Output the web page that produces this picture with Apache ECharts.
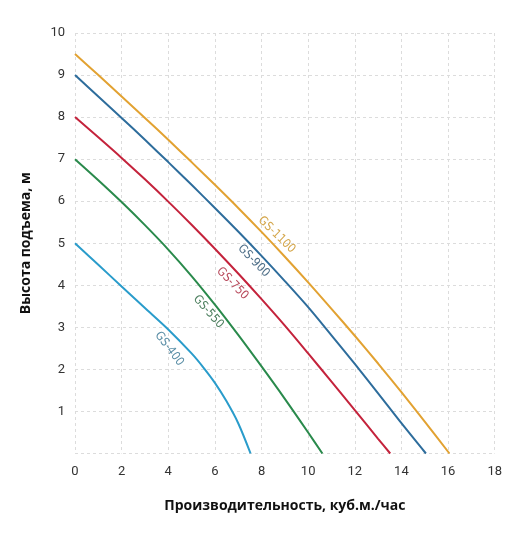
<!DOCTYPE html>
<html>
<head>
<meta charset="utf-8">
<script src="https://cdn.jsdelivr.net/npm/echarts@6/dist/echarts.min.js"></script>
<style>
html,body{margin:0;padding:0;background:#fff;}
#c{width:505px;height:540px;}
</style>
</head>
<body>
<div id="c"></div>
<script>
// ---- data ----
const seriesNames = ['GS-400', 'GS-550', 'GS-750', 'GS-900', 'GS-1100'];
const gs400x  = [0, 1, 2, 3, 4, 5, 5.5, 6, 6.5, 7, 7.53];
const gs400y  = [5, 4.49, 3.97, 3.46, 2.95, 2.38, 2.05, 1.68, 1.24, 0.72, 0];
const gs550x  = [0, 1, 2, 3, 4, 5, 6, 7, 8, 9, 10, 10.61];
const gs550y  = [7, 6.5, 5.98, 5.43, 4.85, 4.22, 3.54, 2.82, 2.07, 1.3, 0.5, 0];
const gs750x  = [0, 1, 2, 3, 4, 5, 6, 7, 8, 9, 10, 11, 12, 13, 13.52];
const gs750y  = [8, 7.52, 7.03, 6.52, 5.99, 5.44, 4.87, 4.28, 3.67, 3.04, 2.38, 1.71, 1.03, 0.35, 0];
const gs900x  = [0, 1, 2, 3, 4, 5, 6, 7, 8, 9, 10, 11, 12, 13, 14, 15.05];
const gs900y  = [9, 8.49, 7.98, 7.46, 6.93, 6.39, 5.84, 5.28, 4.7, 4.1, 3.48, 2.81, 2.13, 1.43, 0.72, 0];
const gs1100x = [0, 1, 2, 3, 4, 5, 6, 7, 8, 9, 10, 11, 12, 13, 14, 15, 16.06];
const gs1100y = [9.5, 9.0, 8.49, 7.98, 7.46, 6.93, 6.39, 5.84, 5.27, 4.68, 4.07, 3.44, 2.8, 2.14, 1.46, 0.76, 0];
const xTicks = [0, 2, 4, 6, 8, 10, 12, 14, 16, 18];
const yTicks = [1, 2, 3, 4, 5, 6, 7, 8, 9, 10];
const xTitle = 'Производительность, куб.м./час';
const yTitle = 'Высота подъема, м';

// ---- chart ----
const colors = ['#2a9ccb', '#2a8a4c', '#c4233c', '#2e6d9c', '#e2a232'];
const labelColors = ['#5a8ea6', '#4c7f5e', '#b84a5c', '#4f6f88', '#d4a64a'];
const labelAnchors = [[4.04, 2.49, -0.92], [5.72, 3.37, -0.85], [6.75, 4.04, -0.8], [7.66, 4.58, -0.8], [8.65, 5.2, -0.77]];
const xs = [gs400x, gs550x, gs750x, gs900x, gs1100x];
const ys = [gs400y, gs550y, gs750y, gs900y, gs1100y];

const chart = echarts.init(document.getElementById('c'), null, {renderer: 'canvas'});
const axisFont = {fontFamily: 'Roboto', fontSize: 13, color: '#333'};
const titleFont = {fontFamily: 'Open Sans', fontWeight: 'bold', fontSize: 14, color: '#111'};
const option = {
  backgroundColor: '#fff',
  animation: false,
  grid: {left: 75, right: 10, top: 33, bottom: 86.5},
  xAxis: {
    type: 'value', min: xTicks[0], max: xTicks[xTicks.length - 1], interval: 2,
    name: xTitle, nameLocation: 'middle', nameGap: 46, nameTextStyle: titleFont,
    axisLine: {show: false}, axisTick: {show: false},
    axisLabel: Object.assign({margin: 12}, axisFont),
    splitLine: {show: true, lineStyle: {type: [3, 3], color: '#dcdcdc', width: 1}}
  },
  yAxis: {
    type: 'value', min: 0, max: yTicks[yTicks.length - 1], interval: 1,
    name: yTitle, nameLocation: 'middle', nameGap: 42, nameRotate: 90, nameTextStyle: titleFont,
    axisLine: {show: false}, axisTick: {show: false},
    axisLabel: Object.assign({margin: 10, formatter: v => (yTicks.indexOf(v) >= 0 ? String(v) : '')}, axisFont),
    splitLine: {show: true, lineStyle: {type: [3, 3], color: '#dcdcdc', width: 1}}
  },
  series: seriesNames.map((n, i) => ({
    name: n, type: 'line', smooth: 0.3, showSymbol: false, symbol: 'none',
    lineStyle: {color: colors[i], width: 2}, itemStyle: {color: colors[i]},
    data: xs[i].map((x, j) => [x, ys[i][j]])
  }))
};
chart.setOption(option);

const texts = seriesNames.map((n, i) => {
  const p = chart.convertToPixel({gridIndex: 0}, [labelAnchors[i][0], labelAnchors[i][1]]);
  return {
    type: 'text', x: p[0], y: p[1], rotation: labelAnchors[i][2],
    style: {text: n, fill: labelColors[i], font: '12px "DejaVu Sans Condensed", "Roboto", sans-serif', align: 'center', verticalAlign: 'middle'}
  };
});
chart.setOption({graphic: texts});
</script>
</body>
</html>
